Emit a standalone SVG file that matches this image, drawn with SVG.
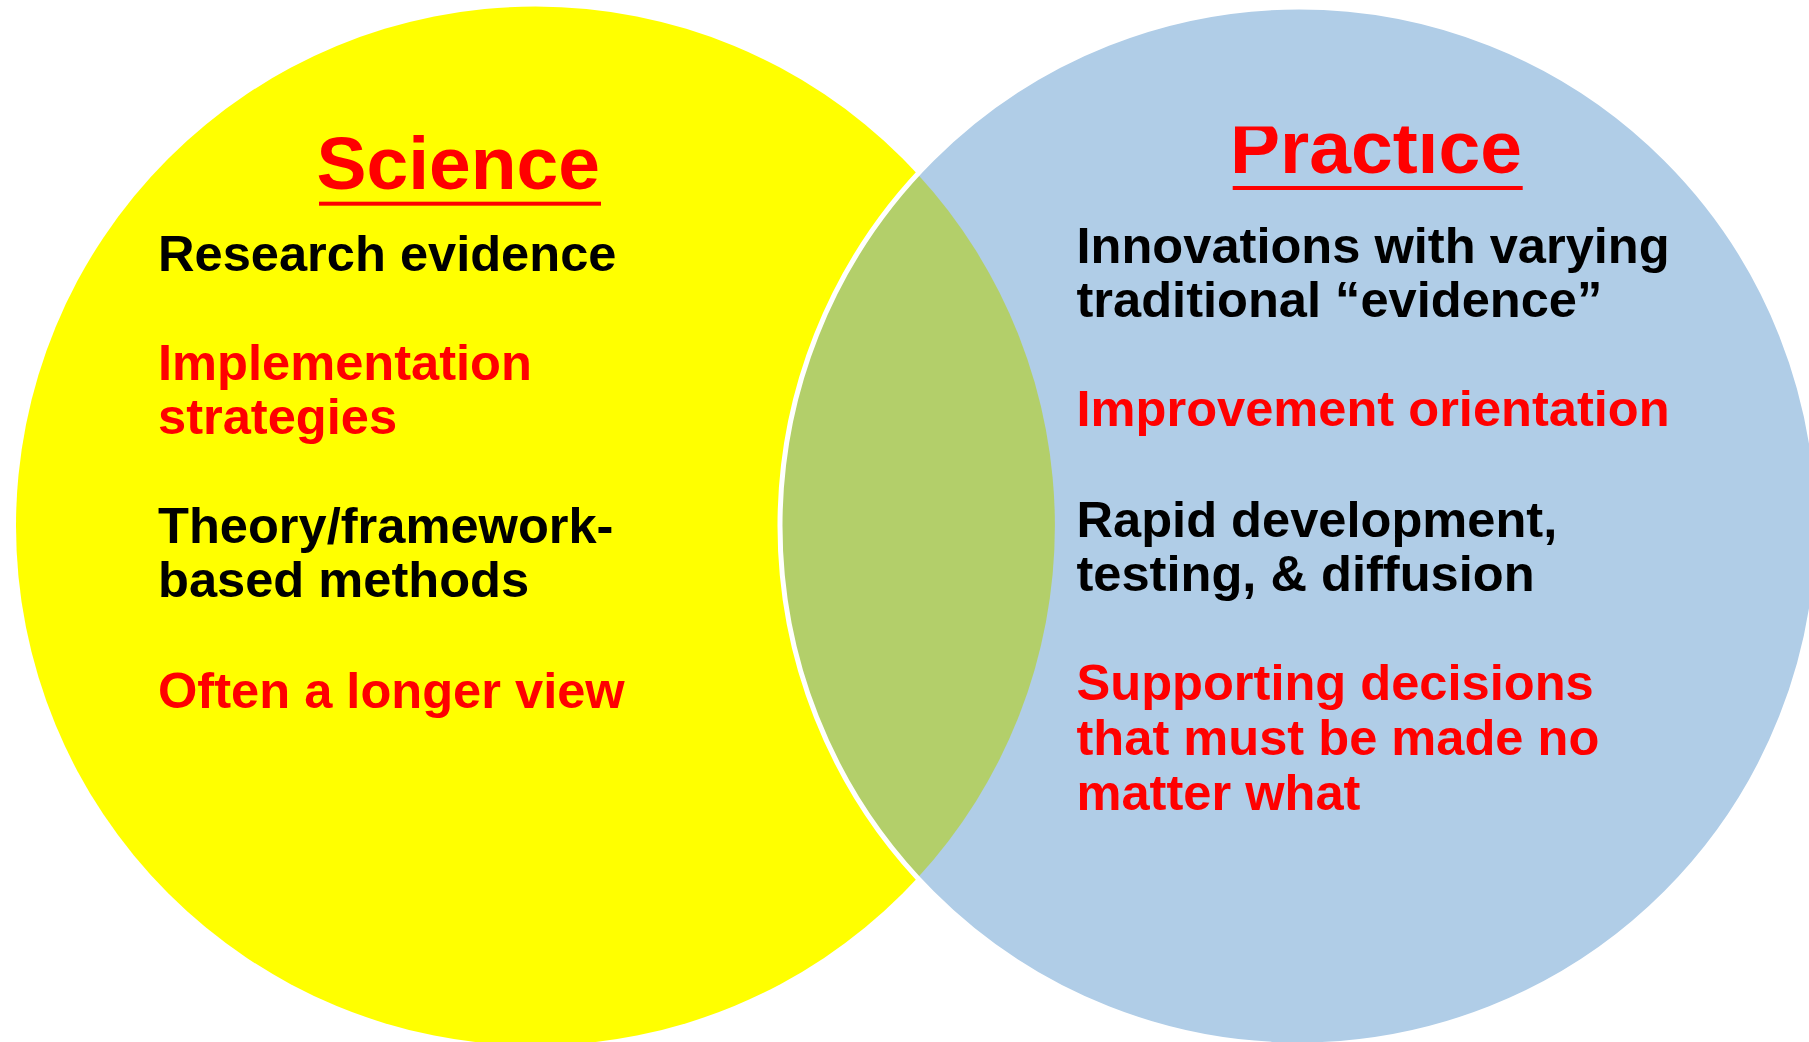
<svg xmlns="http://www.w3.org/2000/svg" width="1809" height="1042" viewBox="0 0 1809 1042">
<style>
.t{font-family:"Liberation Sans",Arial,sans-serif;font-weight:bold;font-size:50.6px}
.red{fill:#FF0000}
.blk{fill:#000000}
.title{font-family:"Liberation Sans",Arial,sans-serif;font-weight:bold;font-size:75px;fill:#FF0000}
</style>
<defs>
<clipPath id="clipP"><rect x="1200" y="126.5" width="400" height="120"/></clipPath>
</defs>
<rect width="1809" height="1042" fill="#FFFFFF"/>
<g id="science-circle">
<circle cx="535.5" cy="526" r="519.5" fill="#FFFF00"/>
</g>
<g id="practice-circle">
<circle cx="1298.5" cy="526" r="519.5" fill="#B0CDE7"/>
</g>
<g id="overlap">
<path d="M917,173.5 A519.5,519.5 0 0 1 917,878.5 A519.5,519.5 0 0 1 917,173.5 Z" fill="#B3CF6A"/>
<circle cx="1299" cy="526" r="519" fill="none" stroke="#FFFFFF" stroke-width="5"/>
</g>
<g id="connectors"></g>
<g id="science-text">
<text class="title" x="316.5" y="189">Science</text>
<rect x="319" y="201.7" width="282" height="4" fill="#FF0000"/>
<text class="t blk" x="158" y="270.7">Research evidence</text>
<text class="t red" x="158" y="380">Implementation</text>
<text class="t red" x="158" y="433.5">strategies</text>
<text class="t blk" x="158" y="543.3">Theory/framework-</text>
<text class="t blk" x="158" y="597.3">based methods</text>
<text class="t red" x="158" y="708.3">Often a longer view</text>
</g>
<g id="practice-text">
<text class="title" x="1230" y="173.3" clip-path="url(#clipP)">Practıce</text>
<rect x="1232.7" y="186" width="290" height="4" fill="#FF0000"/>
<text class="t blk" x="1076.5" y="263.3">Innovations with varying</text>
<text class="t blk" x="1076.5" y="317.3">traditional “evidence”</text>
<text class="t red" x="1076.5" y="426">Improvement orientation</text>
<text class="t blk" x="1076.5" y="537.3">Rapid development,</text>
<text class="t blk" x="1076.5" y="590.7">testing, &amp; diffusion</text>
<text class="t red" x="1076.5" y="700">Supporting decisions</text>
<text class="t red" x="1076.5" y="755.3">that must be made no</text>
<text class="t red" x="1076.5" y="810">matter what</text>
</g>
</svg>
